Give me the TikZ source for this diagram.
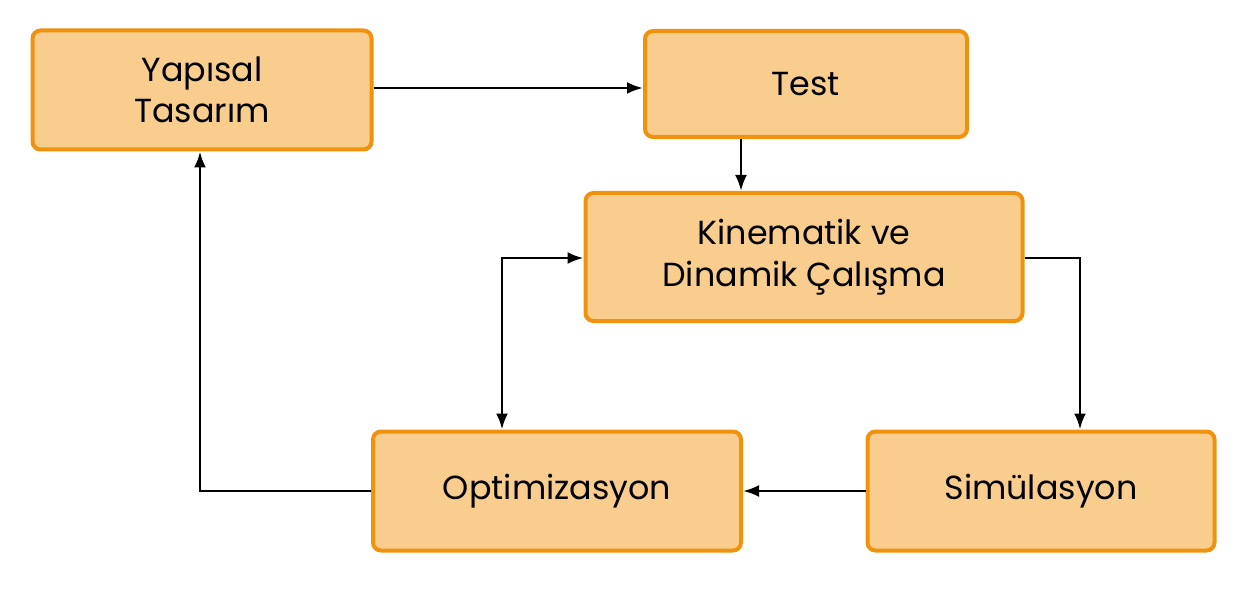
\documentclass[tikz,border=0pt]{standalone}
\usepackage{fontspec}
\setmainfont{Poppins}
\usetikzlibrary{arrows.meta}
\definecolor{boxfill}{HTML}{F9CD8E}
\definecolor{boxline}{HTML}{F0920E}
\tikzset{
  stage/.style={draw=boxline, fill=boxfill, line width=3pt, rounded corners=6pt,
    align=center, font=\fontsize{25}{31}\selectfont, inner sep=0pt},
  flow/.style={-{Latex[length=12pt,width=9pt]}, line width=2pt},
}
\begin{document}
\begin{tikzpicture}[x=0.75pt, y=-0.75pt]
  \useasboundingbox (0,0) rectangle (1249,606);
  \node[stage, minimum width=339*0.75pt, minimum height=119*0.75pt] (yapisal) at (202,90) {Yapısal\\Tasarım};
  \node[stage, minimum width=322*0.75pt, minimum height=106*0.75pt] (test) at (806,84) {Test};
  \node[stage, minimum width=437*0.75pt, minimum height=128*0.75pt] (kinematik) at (804,257) {Kinematik ve\\Dinamik Çalışma};
  \node[stage, minimum width=368*0.75pt, minimum height=119*0.75pt] (optim) at (557,491) {Optimizasyon};
  \node[stage, minimum width=347*0.75pt, minimum height=119*0.75pt] (simul) at (1041,491) {Simülasyon};

  % connectors
  \draw[flow] (yapisal.east |- 0,88) -- (test.west |- 0,88);
  \draw[flow] (test.south -| 741,0) -- (kinematik.north -| 741,0);
  \draw[flow] (kinematik.east |- 0,258) -| (simul.north -| 1080,0);
  \draw[flow] (simul.west) -- (optim.east);
  \draw[flow] (optim.west) -| (yapisal.south -| 200,0);
  \draw[flow, {Latex[length=12pt,width=9pt]}-{Latex[length=12pt,width=9pt]}]
    (optim.north -| 502,0) |- (kinematik.west |- 0,258);
\end{tikzpicture}
\end{document}
